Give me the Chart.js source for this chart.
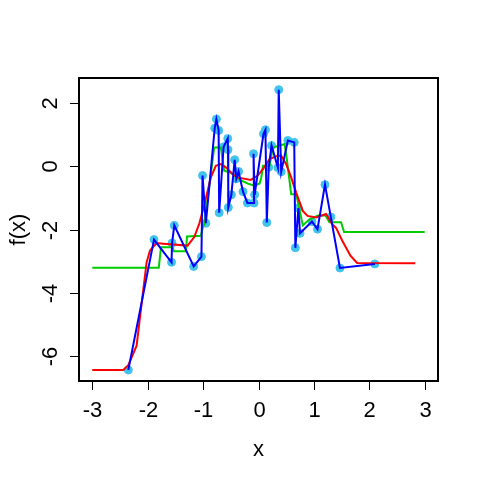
<!DOCTYPE html>
<html>
<head>
<meta charset="utf-8">
<script src="https://cdn.jsdelivr.net/npm/chart.js@4/dist/chart.umd.min.js"></script>
<style>
  body { margin: 0; background: #fff; }
</style>
</head>
<body>
<canvas id="plot" width="480" height="480"></canvas>
<script>
// observed points (blue line + cyan dots), in x order
const blueX = [-2.35, -1.886, -1.57, -1.56, -1.52, -1.17, -1.03, -1.01, -0.95, -0.79, -0.76, -0.72, -0.71, -0.63, -0.555, -0.55, -0.545, -0.49, -0.43, -0.40, -0.36, -0.28, -0.20, -0.08, -0.09, -0.07, 0.09, 0.125, 0.15, 0.185, 0.235, 0.35, 0.365, 0.41, 0.53, 0.645, 0.665, 0.72, 0.75, 0.965, 1.065, 1.20, 1.305, 1.47, 2.10];
const blueY = [-6.45, -2.32, -3.04, -2.43, -1.87, -3.17, -2.86, -0.29, -1.80, 1.21, 1.50, 1.14, -1.47, 0.62, 0.88, 0.53, -1.30, -0.90, 0.21, -0.39, -0.16, -0.80, -1.16, -1.16, 0.40, -0.90, 1.03, 1.16, -1.78, -0.03, 0.66, -0.04, 2.43, -0.17, 0.82, 0.76, -2.58, -1.32, -2.12, -1.75, -1.99, -0.58, -1.60, -3.22, -3.09];

// smooth fit (red)
const redX = [-3.0, -2.44, -2.35, -2.2, -2.11, -2.02, -1.96, -1.84, -1.72, -1.28, -1.16, -1.07, -0.975, -0.86, -0.77, -0.68, -0.59, -0.47, -0.38, -0.14, -0.02, 0.08, 0.2, 0.35, 0.41, 0.5, 0.59, 0.68, 0.8, 0.885, 1.04, 1.22, 1.33, 1.4, 1.51, 1.66, 1.78, 2.83];
const redY = [-6.45, -6.45, -6.3, -5.68, -4.36, -3.04, -2.67, -2.43, -2.45, -2.51, -2.24, -1.82, -1.2, -0.35, 0.02, 0.07, -0.03, -0.24, -0.35, -0.43, -0.3, -0.09, 0.23, 0.34, 0.34, 0.07, -0.35, -0.83, -1.41, -1.57, -1.62, -1.51, -1.83, -1.95, -2.35, -2.83, -3.06, -3.07];

// step-like fit (green)
const greenX = [-3.0, -1.8, -1.76, -1.545, -1.53, -1.31, -1.29, -1.04, -1.0, -0.975, -0.80, -0.68, -0.62, -0.5, -0.32, -0.17, -0.07, 0.02, 0.05, 0.08, 0.2, 0.26, 0.47, 0.5, 0.59, 0.68, 0.8, 0.9, 1.07, 1.21, 1.28, 1.49, 1.545, 3.0];
const greenY = [-3.21, -3.21, -2.56, -2.56, -2.69, -2.69, -2.22, -2.2, -1.9, -1.83, 0.6, 0.6, -0.14, -0.2, -0.44, -0.56, -0.61, -0.54, -0.35, 0.02, 0.02, 0.6, 0.71, 0.39, -0.88, -0.88, -1.87, -1.71, -1.56, -1.56, -1.77, -1.77, -2.08, -2.08];

const xTicks = [-3, -2, -1, 0, 1, 2, 3];
const yTicks = [-6, -4, -2, 0, 2];

const pts = (xs, ys) => xs.map((x, i) => ({ x: x, y: ys[i] }));
const FONT = '22px "Liberation Sans", Arial, sans-serif';

// R-style box, ticks and labels
const rAxes = {
  id: 'rAxes',
  afterDraw(chart) {
    const c = chart.ctx, a = chart.chartArea;
    const xs = chart.scales.x, ys = chart.scales.y;
    c.save();
    c.strokeStyle = '#000';
    c.lineWidth = 2;
    c.strokeRect(a.left, a.top, a.right - a.left, a.bottom - a.top);
    c.lineWidth = 1;
    c.fillStyle = '#000';
    c.font = FONT;
    c.textAlign = 'center';
    c.textBaseline = 'alphabetic';
    xTicks.forEach(v => {
      const px = Math.round(xs.getPixelForValue(v)) + 0.5;
      c.beginPath(); c.moveTo(px, a.bottom); c.lineTo(px, a.bottom + 9); c.stroke();
      c.fillText(String(v), px, 417);
    });
    yTicks.forEach(v => {
      const py = Math.round(ys.getPixelForValue(v)) + 0.5;
      c.beginPath(); c.moveTo(a.left, py); c.lineTo(a.left - 9, py); c.stroke();
      c.save(); c.translate(57, py); c.rotate(-Math.PI / 2);
      c.fillText(String(v), 0, 0); c.restore();
    });
    c.fillText('x', (a.left + a.right) / 2, 456);
    c.save(); c.translate(25, (a.top + a.bottom) / 2); c.rotate(-Math.PI / 2);
    c.fillText('f(x)', 0, 0); c.restore();
    c.restore();
  }
};

new Chart(document.getElementById('plot'), {
  type: 'scatter',
  data: {
    datasets: [
      { data: pts(blueX, blueY), showLine: true, borderColor: '#0000ff', borderWidth: 2, pointRadius: 0, order: 1 },
      { data: pts(redX, redY), showLine: true, borderColor: '#ff0000', borderWidth: 2, pointRadius: 0, order: 2 },
      { data: pts(greenX, greenY), showLine: true, borderColor: '#00cd00', borderWidth: 2, pointRadius: 0, order: 3 },
      { data: pts(blueX, blueY), showLine: false, backgroundColor: '#40c4ec', borderColor: '#40c4ec', pointRadius: 4, order: 4 }
    ]
  },
  options: {
    responsive: false,
    animation: false,
    devicePixelRatio: 1,
    layout: { padding: { left: 79, top: 78, right: 42, bottom: 99 } },
    plugins: { legend: { display: false }, tooltip: { enabled: false } },
    scales: {
      x: { type: 'linear', display: false, min: -3.24, max: 3.24 },
      y: { type: 'linear', display: false, min: -6.8, max: 2.8 }
    }
  },
  plugins: [rAxes]
});
</script>
</body>
</html>
